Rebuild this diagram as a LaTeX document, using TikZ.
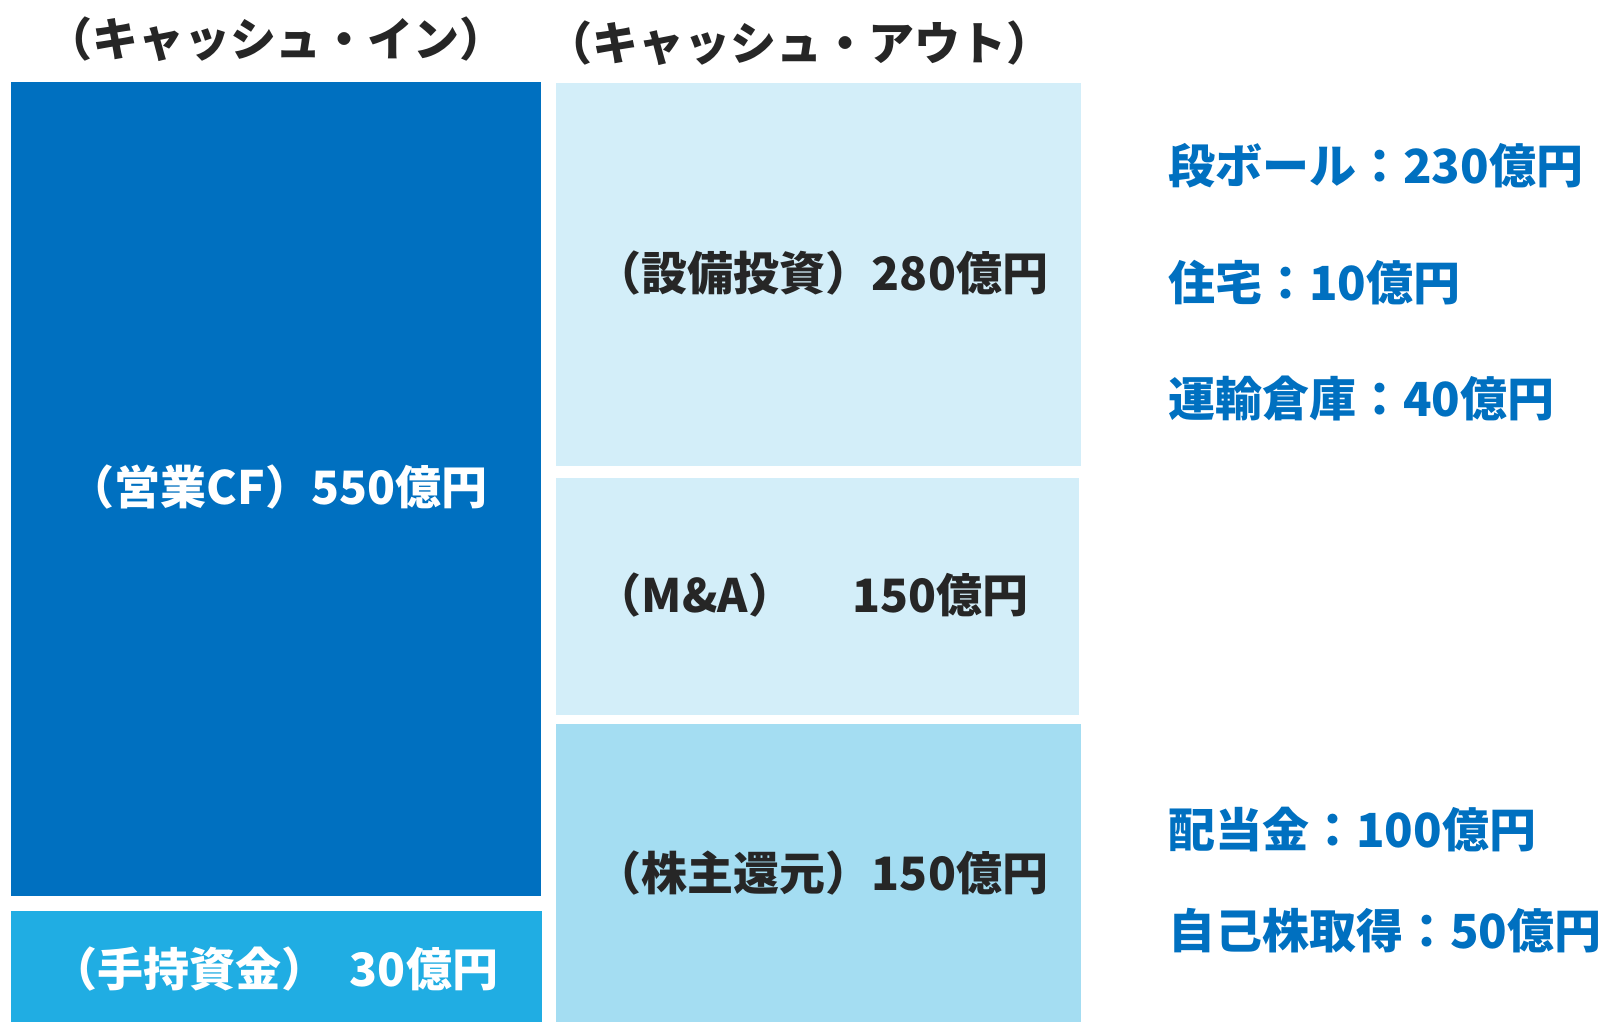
\documentclass[tikz,border=0pt]{standalone}
\usepackage{fontspec}
\setmainfont{Noto Sans CJK JP}
\definecolor{cfdark}{HTML}{0070C0}
\definecolor{cfcash}{HTML}{20ADE3}
\definecolor{cfpale}{HTML}{D3EEF9}
\definecolor{cfmid}{HTML}{A4DDF2}
\definecolor{cftext}{HTML}{262626}
\tikzset{
  head/.style={font=\fontsize{46}{52}\selectfont\bfseries, text=cftext, inner sep=0pt},
  boxlabel/.style={font=\fontsize{46}{52}\selectfont\bfseries, text=cftext, inner sep=0pt},
  sidelabel/.style={font=\fontsize{47}{54}\selectfont\bfseries, text=cfdark, inner sep=0pt, anchor=west}
}
\begin{document}
\begin{tikzpicture}[x=1pt,y=-1pt]
\useasboundingbox (0,0) rectangle (1607,1022);

% cash in
\fill[cfdark] (11,82) rectangle (541,896);
\fill[cfcash] (11,911) rectangle (542,1022);

% cash out
\fill[cfpale] (556,83) rectangle (1081,466);
\fill[cfpale] (556,478) rectangle (1079,715);
\fill[cfmid] (556,724) rectangle (1081,1022);

% headings
\node [head] (inhead) at (276,39) {（キャッシュ・イン）};
\node [head] (outhead) at (799,43) {（キャッシュ・アウト）};

% labels in the boxes
\node [boxlabel, text=white] (opcf) at (278,487) {（営業CF）550億円};
\node [boxlabel, text=white] (cash) at (275,969) {（手持資金）\hspace{22pt}30億円};
\node [boxlabel] (capex) at (822,273) {（設備投資）280億円};
\node [boxlabel] (ma) at (812,595) {（M\&A）\hspace{58pt}150億円};
\node [boxlabel] (return) at (822,873) {（株主還元）150億円};

% breakdown
\node [sidelabel] (board) at (1168,166) {段ボール：230億円};
\node [sidelabel] (house) at (1168,283) {住宅：10億円};
\node [sidelabel] (logi) at (1168,398) {運輸倉庫：40億円};
\node [sidelabel] (divid) at (1168,830) {配当金：100億円};
\node [sidelabel] (buyback) at (1168,931) {自己株取得：50億円};

\end{tikzpicture}
\end{document}
